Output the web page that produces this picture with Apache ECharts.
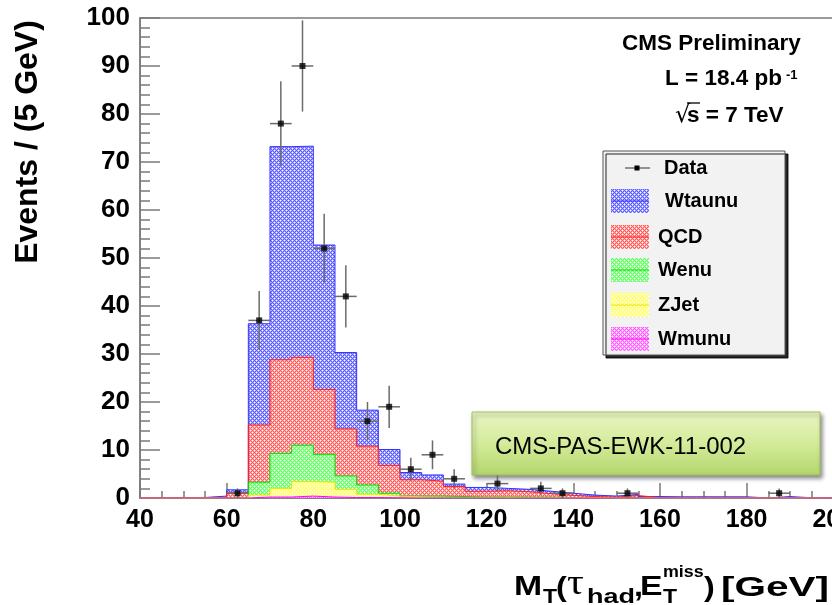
<!DOCTYPE html>
<html><head><meta charset="utf-8">
<script src="https://cdn.jsdelivr.net/npm/echarts@6/dist/echarts.min.js"></script>
<style>html,body{margin:0;padding:0;background:#fff}#c{width:832px;height:605px}</style>
</head><body><div id="c"></div>
<script>
// ---- data ----
const binLeft = [40,45,50,55,60,65,70,75,80,85,90,95,100,105,110,115,120,125,130,135,140,145,150,155,160,165,170,175,180,185,190,195];
const binUpper = 200;
const wtaunu = [0,0,0,0.25,0.6,21.1,44.4,44.0,30.1,15.9,7.5,3.3,1.5,1.3,0.5,0.8,0.5,0.5,0.5,0.45,0.3,0.2,0.25,0.2,0.15,0.15,0.15,0.15,0,0.25,0,0];
const qcd    = [0.1,0.1,0.1,0.15,1.0,11.9,19.5,18.3,13.5,9.8,8.1,5.8,3.4,3.1,2.1,1.2,1.2,1.1,0.7,0.45,0.2,0.15,0.45,0.1,0.1,0.1,0.1,0.1,0,0.05,0.05,0];
const wenu   = [0,0,0,0,0.05,2.7,7.3,7.6,5.8,2.8,1.9,0.6,0.2,0.3,0.2,0.1,0.1,0.1,0.1,0.05,0,0.05,0.05,0,0,0,0,0,0,0,0,0];
const zjet   = [0,0,0,0,0.05,0.4,1.8,3.0,3.1,1.7,0.7,0.35,0.2,0.1,0.1,0.1,0.2,0.1,0.1,0.05,0.1,0,0,0,0,0,0,0,0,0,0,0];
const wmunu  = [0,0,0,0,0,0.2,0.2,0.4,0.2,0.1,0.1,0.05,0,0,0,0,0,0,0,0,0,0,0,0,0,0,0,0,0,0,0,0];
const dataX   = [62.5,67.5,72.5,77.5,82.5,87.5,92.5,97.5,102.5,107.5,112.5,122.5,132.5,137.5,152.5,187.5];
const dataY   = [1,37,78,90,52,42,16,19,6,9,4,3,2,1,1,1];
const dataErr = [1,6.1,8.8,9.5,7.2,6.5,4,4.4,2.4,3,2,1.7,1.4,1,1,1];
const halfBin = 2.5;
const xTicks = {min:40, max:200, interval:20};
const yTicks = {min:0, max:100, interval:10};

// ---- helpers ----
function pattern(r,g,b){
  const c=document.createElement('canvas'); c.width=4; c.height=4;
  const ctx=c.getContext('2d'); const img=ctx.createImageData(4,4);
  for(let y=0;y<4;y++)for(let x=0;x<4;x++){
    let w;
    if((x===0&&y===0)||(x===2&&y===2)) w=1;
    else if((x+y)%2===1) w=0.68; else w=0.36;
    const i=(y*4+x)*4;
    img.data[i]=Math.round(r+(255-r)*w);
    img.data[i+1]=Math.round(g+(255-g)*w);
    img.data[i+2]=Math.round(b+(255-b)*w);
    img.data[i+3]=255;
  }
  ctx.putImageData(img,0,0);
  return {image:c, repeat:'repeat'};
}
const comps = [
  {name:'Wmunu', vals:wmunu, rgb:[255,0,255], line:'#ff00ff'},
  {name:'ZJet', vals:zjet, rgb:[255,255,0], line:'#e8e800'},
  {name:'Wenu', vals:wenu, rgb:[0,255,0], line:'#00e000'},
  {name:'QCD', vals:qcd, rgb:[255,0,0], line:'#ff2020'},
  {name:'Wtaunu', vals:wtaunu, rgb:[0,0,255], line:'#3030ff'}
];
let run = binLeft.map(()=>0);
comps.forEach(c=>{ run = run.map((v,i)=>v+c.vals[i]); c.cum = run.slice(); c.pat = pattern(...c.rgb); });

const histSeries = comps.slice().reverse().map(c=>({
  type:'line', name:c.name, step:'end', showSymbol:false, silent:true,
  data: binLeft.map((x,i)=>[x, c.cum[i]]).concat([[binUpper, c.cum[c.cum.length-1]]]),
  lineStyle:{color:c.line, width:1},
  areaStyle:{color:c.pat, opacity:1},
  emphasis:{disabled:true}, z:2
}));

const grey='#7a7a7a';
const font='"Liberation Sans", Arial, sans-serif';

// legend graphic
const legX=603, legY=151;
const legItems = [
  {name:'Wtaunu', y:201, comp:comps[4], tx:665},
  {name:'QCD', y:237, comp:comps[3], tx:658},
  {name:'Wenu', y:270, comp:comps[2], tx:658},
  {name:'ZJet', y:305, comp:comps[1], tx:658},
  {name:'Wmunu', y:339, comp:comps[0], tx:658}
];
const legendChildren = [
  {type:'rect', shape:{x:legX, y:legY, width:182, height:204}, style:{fill:'#f2f2f2', stroke:'#555', lineWidth:1, shadowColor:'rgba(0,0,0,0.85)', shadowOffsetX:3, shadowOffsetY:3, shadowBlur:0}},
  {type:'line', shape:{x1:625,y1:168,x2:650,y2:168}, style:{stroke:'#333', lineWidth:1}},
  {type:'rect', shape:{x:634.5,y:165.5,width:5,height:5}, style:{fill:'#000'}},
  {type:'text', style:{x:664, y:168, text:'Data', fill:'#000', font:'bold 20px '+font, verticalAlign:'middle'}}
];
legItems.forEach(it=>{
  legendChildren.push({type:'rect', shape:{x:611, y:it.y-12, width:38, height:24}, style:{fill:it.comp.pat, stroke:null}});
  legendChildren.push({type:'line', shape:{x1:611,y1:it.y,x2:649,y2:it.y}, style:{stroke:it.comp.line, lineWidth:1}});
  legendChildren.push({type:'text', style:{x:it.tx, y:it.y, text:it.name, fill:'#000', font:'bold 20px '+font, verticalAlign:'middle'}});
});

// x-axis title, placed piece by piece (left x, bottom y, font, horizontal stretch)
function piece(text, left, bottom, f, sx){
  return {type:'text', x:left, y:bottom, scaleX:sx, style:{x:0, y:0, text:text, font:f, fill:'#000', verticalAlign:'bottom'}};
}
const mainF = 'bold 27px '+font, subF = 'bold 20px '+font;
const xTitle = [
  piece('M', 514, 601, mainF, 1.25),
  piece('T', 543, 607, subF, 1.15),
  piece('(', 556, 602, mainF, 1.2),
  piece('\u03C4', 567, 602, '35px "Liberation Serif", serif', 1.2),
  piece('had', 587, 607, subF, 1.35),
  piece(',', 634, 602, mainF, 1.2),
  piece('E', 640, 601, mainF, 1.25),
  piece('miss', 663, 581, 'bold 17px '+font, 1.05),
  piece('T', 663, 607, subF, 1.15),
  piece(')', 704, 602, mainF, 1.2),
  piece('[GeV]', 721, 602, mainF, 1.5)
];

const graphics = [
  {type:'text', x:28, y:142, rotation:Math.PI/2, style:{text:'Events / (5 GeV)', font:'bold 32px '+font, fill:'#000', align:'center', verticalAlign:'middle'}},
  {type:'text', style:{x:622, y:44, text:'CMS Preliminary', font:'bold 22.5px '+font, fill:'#000', verticalAlign:'middle'}},
  {type:'text', style:{x:665, y:79, text:'L = 18.4 pb', font:'bold 22.5px '+font, fill:'#000', verticalAlign:'middle'}},
  {type:'text', style:{x:786, y:75, text:'-1', font:'bold 13px '+font, fill:'#000', verticalAlign:'middle'}},
  {type:'text', style:{x:675, y:116, text:'\u221A', font:'24px "DejaVu Sans", sans-serif', fill:'#000', verticalAlign:'middle'}},
  {type:'line', shape:{x1:687,y1:103,x2:700,y2:103}, style:{stroke:'#000', lineWidth:1.3}},
  {type:'text', style:{x:687, y:116, text:'s = 7 TeV', font:'bold 22.5px '+font, fill:'#000', verticalAlign:'middle'}},
  {type:'group', children:legendChildren},
  {type:'rect', shape:{x:472, y:412, width:348, height:63},
    style:{fill:{type:'linear', x:0,y:0,x2:0,y2:1, colorStops:[{offset:0,color:'#e9f6c4'},{offset:0.5,color:'#d4eb9a'},{offset:1,color:'#b3d66c'}]},
      stroke:'#9fbf5c', lineWidth:1, shadowColor:'rgba(0,0,0,0.45)', shadowBlur:4, shadowOffsetX:2, shadowOffsetY:3}},
  {type:'text', style:{x:495, y:447, text:'CMS-PAS-EWK-11-002', font:'24px '+font, fill:'#000', verticalAlign:'middle'}},
  {type:'group', children:xTitle}
];

const chart = echarts.init(document.getElementById('c'), null, {renderer:'canvas'});
chart.setOption({
  animation:false,
  backgroundColor:'#fff',
  grid:{left:140, top:18, width:693.3, height:480, containLabel:false, outerBoundsMode:'none',
    show:true, borderColor:grey, borderWidth:1.5, backgroundColor:'transparent'},
  xAxis:{type:'value', min:xTicks.min, max:xTicks.max, interval:xTicks.interval,
    axisLine:{show:true, lineStyle:{color:grey, width:1.5}},
    axisTick:{show:true, inside:true, length:15, lineStyle:{color:grey, width:1.5}},
    minorTick:{show:true, splitNumber:4, length:7, lineStyle:{color:grey, width:1.5}},
    splitLine:{show:false}, minorSplitLine:{show:false},
    axisLabel:{color:'#000', fontWeight:'bold', fontSize:25, fontFamily:font, margin:10, hideOverlap:false}},
  yAxis:{type:'value', min:yTicks.min, max:yTicks.max, interval:yTicks.interval,
    axisLine:{show:true, lineStyle:{color:grey, width:1.5}},
    axisTick:{show:true, inside:true, length:20, lineStyle:{color:grey, width:1.5}},
    minorTick:{show:true, splitNumber:5, length:10, lineStyle:{color:grey, width:1.5}},
    splitLine:{show:false},
    axisLabel:{color:'#000', fontWeight:'bold', fontSize:26, fontFamily:font, margin:10}},
  series: histSeries.concat([
    {type:'custom', name:'Data errors', silent:true, z:3,
      data: dataX.map((x,i)=>[x, dataY[i], dataErr[i]]),
      encode:{x:0, y:1},
      renderItem:function(params, api){
        const x=api.value(0), y=api.value(1), e=api.value(2);
        const c=api.coord([x,y]), top=api.coord([x,y+e]), bot=api.coord([x,Math.max(0,y-e)]);
        const l=api.coord([x-halfBin,y]), r=api.coord([x+halfBin,y]);
        return {type:'group', children:[
          {type:'line', shape:{x1:c[0],y1:top[1],x2:c[0],y2:bot[1]}, style:{stroke:'#6b6b6b', lineWidth:1.5}},
          {type:'line', shape:{x1:l[0],y1:c[1],x2:r[0],y2:c[1]}, style:{stroke:'#6b6b6b', lineWidth:1.5}}
        ]};
      }},
    {type:'scatter', name:'Data', silent:true, z:4, symbol:'rect', symbolSize:6,
      itemStyle:{color:'#000'}, data: dataX.map((x,i)=>[x, dataY[i]])}
  ]),
  graphic: graphics
});
</script>
</body></html>
